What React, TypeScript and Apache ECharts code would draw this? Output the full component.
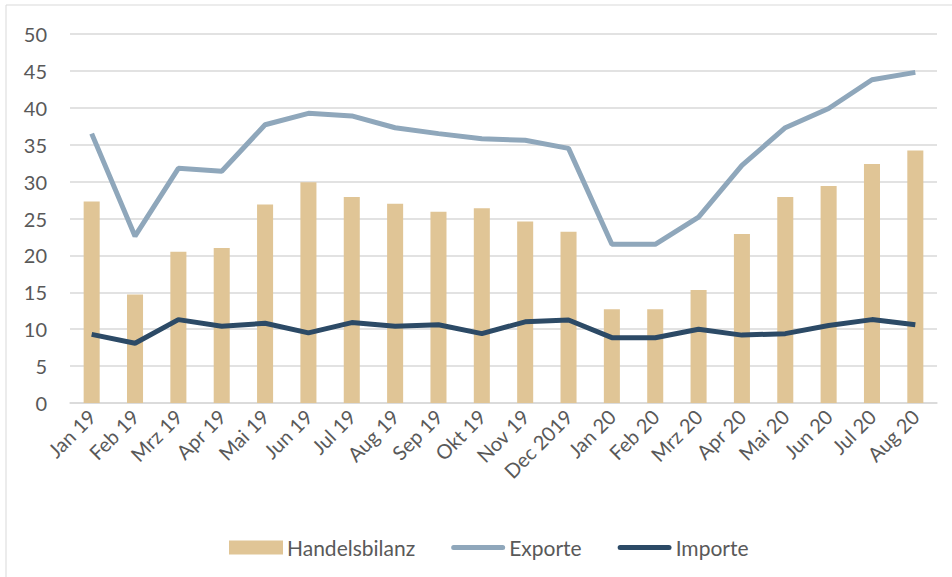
import React, { useEffect, useRef } from "react";
import * as echarts from "echarts";

const categories = ["Jan 19", "Feb 19", "Mrz 19", "Apr 19", "Mai 19", "Jun 19", "Jul 19", "Aug 19", "Sep 19", "Okt 19", "Nov 19", "Dec 2019", "Jan 20", "Feb 20", "Mrz 20", "Apr 20", "Mai 20", "Jun 20", "Jul 20", "Aug 20"];
const handelsbilanz = [27.3, 14.7, 20.5, 21.0, 26.9, 29.9, 27.9, 27.0, 25.9, 26.4, 24.6, 23.2, 12.7, 12.7, 15.3, 22.9, 27.9, 29.4, 32.4, 34.2];
const exporte = [36.5, 22.6, 31.8, 31.4, 37.7, 39.25, 38.9, 37.3, 36.5, 35.8, 35.6, 34.5, 21.5, 21.5, 25.2, 32.2, 37.3, 39.9, 43.8, 44.8];
const importe = [9.3, 8.1, 11.3, 10.4, 10.8, 9.5, 10.9, 10.4, 10.6, 9.4, 11.0, 11.25, 8.85, 8.85, 10.0, 9.2, 9.4, 10.5, 11.3, 10.6];

const FONT = "Lato";
const TEXT = "#595959";
const LINE_ICON = "path://M2.5,0 L51.5,0 A2.5,2.5 0 0 1 51.5,5 L2.5,5 A2.5,2.5 0 0 1 2.5,0 Z";

export default function App() {
  const ref = useRef<HTMLDivElement>(null);
  useEffect(() => {
    const chart = echarts.init(ref.current!, null, { renderer: "svg" });
    chart.setOption({
      animation: false,
      backgroundColor: "#ffffff",
      textStyle: { fontFamily: FONT },
      graphic: [
        {
          type: "rect",
          shape: { x: 6, y: 5, width: 1000, height: 700 },
          style: { fill: "none", stroke: "#D9D9D9", lineWidth: 1 },
          silent: true,
        },
      ],
      grid: { left: 70, right: 15, top: 34, bottom: 174 },
      legend: {
        left: 229,
        top: 537,
        padding: 0,
        itemGap: 36,
        itemWidth: 54,
        itemHeight: 14,
        textStyle: { color: TEXT, fontSize: 21, fontFamily: FONT, padding: [0, 0, 0, -1] },
        data: [
          { name: "Handelsbilanz", icon: "rect" },
          { name: "Exporte", icon: LINE_ICON },
          { name: "Importe", icon: LINE_ICON },
        ],
      },
      xAxis: {
        type: "category",
        data: categories,
        axisTick: { show: false },
        axisLine: { lineStyle: { color: "#D9D9D9", width: 1.5 } },
        axisLabel: { rotate: 45, color: TEXT, fontSize: 20, fontFamily: FONT, margin: 10, interval: 0 },
      },
      yAxis: {
        type: "value",
        min: 0,
        max: 50,
        interval: 5,
        axisLine: { show: false },
        axisTick: { show: false },
        splitLine: { lineStyle: { color: "#D9D9D9", width: 1.5 } },
        axisLabel: { color: TEXT, fontSize: 20, fontFamily: FONT, margin: 23 },
      },
      series: [
        {
          name: "Handelsbilanz",
          type: "bar",
          data: handelsbilanz,
          barWidth: "37%",
          itemStyle: { color: "#E0C596" },
        },
        {
          name: "Exporte",
          type: "line",
          data: exporte,
          symbol: "none",
          lineStyle: { color: "#8FA7BB", width: 5 },
          itemStyle: { color: "#8FA7BB" },
        },
        {
          name: "Importe",
          type: "line",
          data: importe,
          symbol: "none",
          lineStyle: { color: "#2C4A66", width: 5 },
          itemStyle: { color: "#2C4A66" },
        },
      ],
    });
    return () => chart.dispose();
  }, []);
  return (
    <div
      ref={ref}
      style={{ position: "absolute", left: 0, top: 0, width: 952, height: 577 }}
    />
  );
}
